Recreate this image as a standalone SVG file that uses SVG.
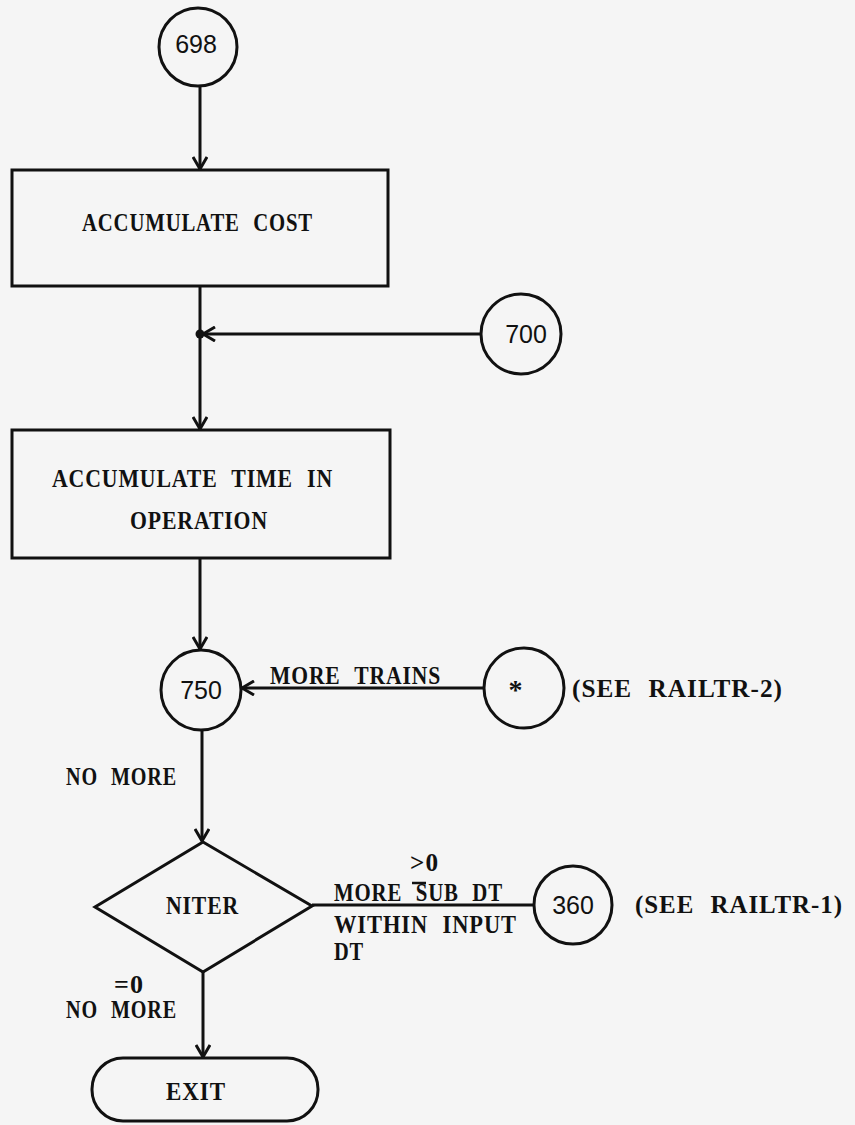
<svg xmlns="http://www.w3.org/2000/svg" width="855" height="1125" viewBox="0 0 855 1125">
<style>
  .bg{fill:#f5f5f5}
  .shape{fill:none;stroke:#111;stroke-width:3}
  .ln{fill:none;stroke:#111;stroke-width:3}
  .t{font-family:"Liberation Serif","Times New Roman",serif;font-weight:bold;font-size:25px;word-spacing:9px;letter-spacing:1px;fill:#111}
  .n{font-family:"Liberation Sans",Arial,sans-serif;font-size:25px;fill:#111}
</style>
<defs>
  <marker id="arr" viewBox="0 0 16 16" refX="14" refY="8" markerWidth="16" markerHeight="16" markerUnits="userSpaceOnUse" orient="auto">
    <path d="M2,1 L14,8 L2,15" fill="none" stroke="#111" stroke-width="3"/>
  </marker>
</defs>
<rect class="bg" x="0" y="0" width="855" height="1125"/>

<g id="connectors">
  <line class="ln" x1="200" y1="87" x2="200" y2="169" marker-end="url(#arr)"/>
  <line class="ln" x1="200" y1="286" x2="200" y2="429" marker-end="url(#arr)"/>
  <line class="ln" x1="481" y1="334" x2="203" y2="334" marker-end="url(#arr)"/>
  <circle cx="200" cy="334" r="4.5" fill="#111"/>
  <line class="ln" x1="200" y1="558" x2="200" y2="649" marker-end="url(#arr)"/>
  <line class="ln" x1="484" y1="688" x2="242" y2="688" marker-end="url(#arr)"/>
  <line class="ln" x1="202" y1="730" x2="202" y2="841" marker-end="url(#arr)"/>
  <line class="ln" x1="312" y1="905" x2="534" y2="905"/>
  <line class="ln" x1="203" y1="972" x2="203" y2="1057" marker-end="url(#arr)"/>
</g>

<g id="labels">
  <text class="t" x="270" y="684" textLength="171" lengthAdjust="spacingAndGlyphs">MORE TRAINS</text>
  <text class="t" x="572" y="697" textLength="211" lengthAdjust="spacingAndGlyphs">(SEE RAILTR-2)</text>
  <text class="t" x="66" y="785" textLength="111" lengthAdjust="spacingAndGlyphs">NO MORE</text>
  <text class="t" x="410" y="871" textLength="29" lengthAdjust="spacingAndGlyphs">&gt;0</text>
  <line x1="412" y1="883" x2="426" y2="883" stroke="#111" stroke-width="2.5"/>
  <text class="t" x="334" y="901" textLength="169" lengthAdjust="spacingAndGlyphs">MORE SUB DT</text>
  <text class="t" x="334" y="933" textLength="183" lengthAdjust="spacingAndGlyphs">WITHIN INPUT</text>
  <text class="t" x="334" y="960" textLength="30" lengthAdjust="spacingAndGlyphs">DT</text>
  <text class="t" x="635" y="913" textLength="208" lengthAdjust="spacingAndGlyphs">(SEE RAILTR-1)</text>
  <text class="t" x="114" y="993" textLength="30" lengthAdjust="spacingAndGlyphs">=0</text>
  <text class="t" x="66" y="1018" textLength="111" lengthAdjust="spacingAndGlyphs">NO MORE</text>
</g>

<g id="n698">
  <circle class="shape" cx="198" cy="47" r="39"/>
  <text class="n" x="196" y="53" text-anchor="middle">698</text>
</g>

<g id="accumulate-cost">
  <rect class="shape" x="12" y="170" width="376" height="116"/>
  <text class="t" x="82" y="231" textLength="231" lengthAdjust="spacingAndGlyphs">ACCUMULATE COST</text>
</g>

<g id="n700">
  <circle class="shape" cx="521" cy="334" r="40"/>
  <text class="n" x="526" y="343" text-anchor="middle">700</text>
</g>

<g id="accumulate-time">
  <rect class="shape" x="12" y="430" width="378" height="128"/>
  <text class="t" x="52" y="487" textLength="281" lengthAdjust="spacingAndGlyphs">ACCUMULATE TIME IN</text>
  <text class="t" x="130" y="529" textLength="138" lengthAdjust="spacingAndGlyphs">OPERATION</text>
</g>

<g id="n750">
  <circle class="shape" cx="201" cy="690" r="40"/>
  <text class="n" x="201" y="699" text-anchor="middle">750</text>
</g>

<g id="nstar">
  <circle class="shape" cx="524" cy="688" r="40"/>
  <text class="t" x="516" y="699" text-anchor="middle" style="font-size:28px">*</text>
</g>

<g id="niter">
  <polygon class="shape" points="203,842 312,906 203,972 95,907"/>
  <text class="t" x="166" y="914" textLength="73" lengthAdjust="spacingAndGlyphs">NITER</text>
</g>

<g id="n360">
  <circle class="shape" cx="573" cy="905" r="39"/>
  <text class="n" x="573" y="914" text-anchor="middle">360</text>
</g>

<g id="exit">
  <rect class="shape" x="92" y="1058" width="226" height="63" rx="31" ry="31"/>
  <text class="t" x="166" y="1100" textLength="60" lengthAdjust="spacingAndGlyphs">EXIT</text>
</g>
</svg>
